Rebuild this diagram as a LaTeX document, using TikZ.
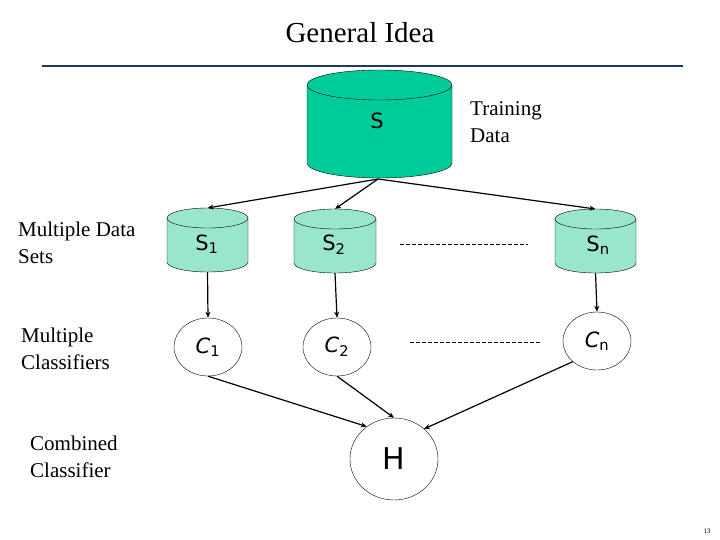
\documentclass[tikz,border=0pt]{standalone}
\usepackage{fontspec}
\setmainfont{Liberation Serif}
\newfontfamily\cfont{DejaVu Sans}
\usetikzlibrary{arrows.meta,shapes.geometric}
\definecolor{big}{HTML}{00CC99}
\definecolor{small}{HTML}{99E6CC}
\definecolor{navy}{HTML}{1F3A60}
\newcommand\mycyl[7]{% name, x1, x2, ytop, ybot, ry, color
  \pgfmathsetmacro\cx{(#2+#3)/2}\pgfmathsetmacro\rx{(#3-#2)/2}
  \fill[#7,draw=black,thin] (#2,#4) -- (#2,#5) arc[start angle=180,end angle=0,x radius=\rx,y radius=#6] -- (#3,#4) arc[start angle=0,end angle=-180,x radius=\rx,y radius=#6] -- cycle;
  \draw[thin] (#2,#4) arc[start angle=180,end angle=0,x radius=\rx,y radius=#6];
  \coordinate (#1t) at (\cx,#4-#6);
  \coordinate (#1b) at (\cx,#5+#6);
}
\begin{document}
\begin{tikzpicture}[x=1pt,y=-1pt,
  arr/.style={-{Stealth[length=6pt,width=5pt]},line width=1.2pt},
  cls/.style={draw,ellipse,thin,fill=white,inner sep=0pt},
  lbl/.style={font=\fontsize{21}{27}\selectfont,align=left,anchor=north west,inner sep=0pt},
  sym/.style={font=\cfont\fontsize{21}{24}\selectfont}]
\useasboundingbox (0,0) rectangle (720,540);
\node[font=\fontsize{29}{34}\selectfont] (title) at (360,33) {General Idea};
\draw[navy,line width=2.5pt] (42,66) -- (683,66);
\mycyl{S}{307}{452}{85}{163}{15}{big}
\node[sym] (sl) at (377,121) {S};
\mycyl{SA}{167}{248}{218}{262}{10}{small}
\mycyl{SB}{294}{376}{219}{263}{10}{small}
\mycyl{SN}{555}{636}{219}{263}{10}{small}
\node[sym] (s1) at (207,244) {S\textsubscript{1}};
\node[sym] (s2) at (334,245) {S\textsubscript{2}};
\node[sym] (sn) at (598,245) {S\textsubscript{n}};
\node[cls,minimum width=68pt,minimum height=58pt,sym] (c1) at (208,347) {\textit{C}\textsubscript{1}};
\node[cls,minimum width=68pt,minimum height=58pt,sym] (c2) at (337,347) {\textit{C}\textsubscript{2}};
\node[cls,minimum width=68pt,minimum height=58pt,sym] (cn) at (597,341) {\textit{C}\textsubscript{n}};
\node[cls,minimum width=88pt,minimum height=82pt,font=\cfont\fontsize{30}{34}\selectfont] (h) at (394,459) {H};
\node[lbl] (tr) at (470,101) {Training\\Data};
\node[lbl] (md) at (18,222) {Multiple Data\\Sets};
\node[lbl] (mc) at (21,328) {Multiple\\Classifiers};
\node[lbl] (cc) at (30,436) {Combined\\Classifier};
\node[font=\fontsize{7}{8}\selectfont] (pg) at (707,531) {13};
\coordinate (Sb) at (378,179);
\draw[arr] (Sb) -- (SAt);
\draw[arr] (Sb) -- (SBt);
\draw[arr] (Sb) -- (SNt);
\draw[arr] (SAb) -- (c1.north);
\draw[arr] (SBb) -- (c2.north);
\draw[arr] (SNb) -- (cn.north);
\draw[arr] (c1.south) -- (h.130);
\draw[arr] (c2.south) -- (h.north);
\draw[arr] (cn.south west) -- (h.45);
\coordinate (d1a) at (400,244); \coordinate (d1b) at (528,244);
\coordinate (d2a) at (410,342); \coordinate (d2b) at (540,342);
\draw[dashed,dash pattern=on 4pt off 2pt] (d1a) -- (d1b);
\draw[dashed,dash pattern=on 4pt off 2pt] (d2a) -- (d2b);
\end{tikzpicture}
\end{document}
